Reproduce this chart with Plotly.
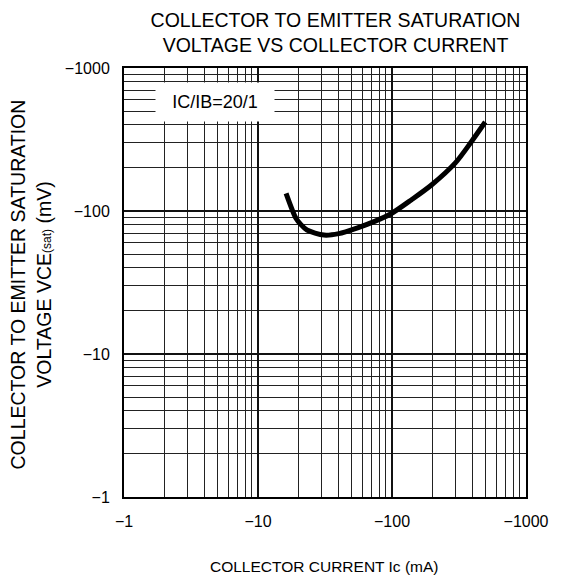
import plotly.graph_objects as go

# Data
ic_ma = [16.2, 19.2, 21.0, 23.2, 31.1, 40.0, 54.7, 75.0, 97.7, 140.0, 197.0, 297.0, 390.0, 496.0]
vce_mv = [133, 89, 80, 73.6, 67.9, 69.5, 76, 85, 95.3, 120, 152, 217, 304, 419]

major_vals = [1, 10, 100, 1000]
x_tick_text = ["\u22121", "\u221210", "\u2212100", "\u22121000"]
y_tick_text = ["\u22121", "\u221210", "\u2212100", "\u22121000"]
minor_vals = [d * 10 ** k for k in range(3) for d in range(2, 10)]

FONT = "Liberation Sans, Arial, sans-serif"

W, H = 553, 571
L, R, T, B = 116, 33, 60, 82
PW, PH = W - L - R, H - T - B

fig = go.Figure()
fig.add_trace(go.Scatter(
    x=ic_ma, y=vce_mv, mode="lines",
    line=dict(color="black", width=5, shape="spline", smoothing=0.8),
    showlegend=False, hoverinfo="skip",
))

axis_common = dict(
    type="log",
    tickvals=major_vals,
    showgrid=True, gridcolor="#111111", gridwidth=2,
    showline=True, linecolor="black", linewidth=2, mirror=True,
    ticks="", zeroline=False,
    minor=dict(tickvals=minor_vals, showgrid=True, gridcolor="#222222", gridwidth=1, ticks=""),
    tickfont=dict(family=FONT, size=16, color="black"),
    ticklabelstandoff=9,
)

fig.update_xaxes(**axis_common, range=[0, 3], ticktext=x_tick_text)
fig.update_yaxes(**axis_common, range=[0, 3], ticktext=y_tick_text)

# curve label box
fig.add_annotation(
    xref="paper", yref="paper", x=(207 - L) / PW, y=1 - (94 - T) / PH,
    xanchor="center", yanchor="middle",
    text="IC/IB=20/1", showarrow=False,
    font=dict(family=FONT, size=18, color="black"),
    bgcolor="white", width=110, height=30, borderpad=4,
)

# y-axis title
fig.add_annotation(
    xref="paper", yref="paper", x=(22 - L) / PW, y=1 - (276 - T) / PH,
    xanchor="center", yanchor="middle", textangle=-90,
    text="COLLECTOR TO EMITTER SATURATION<br>VOLTAGE VCE<span style='font-size:12px'>(sat)</span> (mV)",
    showarrow=False, font=dict(family=FONT, size=19.5, color="black"),
)

# x-axis title
fig.add_annotation(
    xref="paper", yref="paper", x=(317 - L) / PW, y=-(558 - (H - B)) / PH,
    xanchor="center", yanchor="middle",
    text="COLLECTOR CURRENT Ic (mA)",
    showarrow=False, font=dict(family=FONT, size=15.5, color="black"),
)

fig.update_layout(
    width=W, height=H,
    margin=dict(l=L, r=R, t=T, b=B),
    paper_bgcolor="white", plot_bgcolor="white",
    title=dict(text="COLLECTOR TO EMITTER SATURATION<br>VOLTAGE VS COLLECTOR CURRENT",
               x=327.5 / W, xanchor="center", yref="container", y=1 - 19 / H, yanchor="middle",
               font=dict(family=FONT, size=19.5, color="black")),
)

fig.write_html("out.html")
